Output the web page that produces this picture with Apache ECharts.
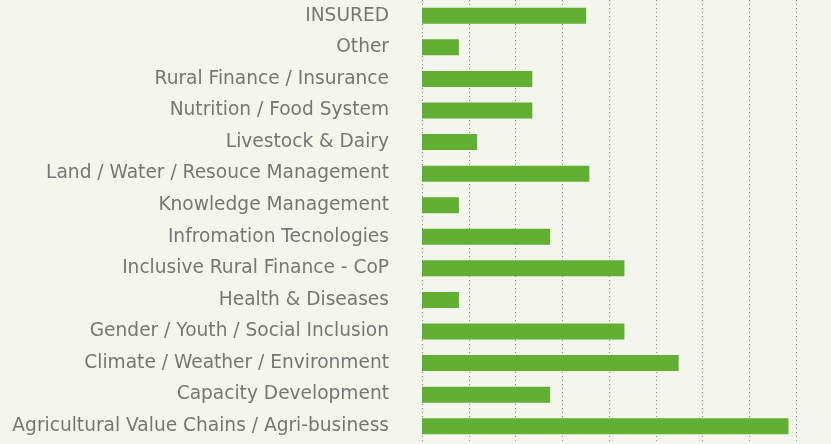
<!DOCTYPE html>
<html>
<head>
<meta charset="utf-8">
<style>
html, body { margin: 0; padding: 0; background: #f4f6ee; }
#chart { width: 831px; height: 444px; }
</style>
<script src="https://cdn.jsdelivr.net/npm/echarts@6/dist/echarts.min.js"></script>
</head>
<body>
<div id="chart"></div>
<script>
// categories, bottom to top
var categories = [
	'Agricultural Value Chains / Agri-business',
	'Capacity Development',
	'Climate / Weather / Environment',
	'Gender / Youth / Social Inclusion',
	'Health & Diseases',
	'Inclusive Rural Finance - CoP',
	'Infromation Tecnologies',
	'Knowledge Management',
	'Land / Water / Resouce Management',
	'Livestock & Dairy',
	'Nutrition / Food System',
	'Rural Finance / Insurance',
	'Other',
	'INSURED'
];
// share (%)
var values = [7.84, 2.74, 5.49, 4.33, 0.79, 4.33, 2.74, 0.79, 3.58, 1.18, 2.36, 2.36, 0.79, 3.51];

var chart = echarts.init(document.getElementById('chart'));
var textColor = '#767676';
var option = {
	backgroundColor: '#f4f6ee',
	grid: {
		left: 422,
		right: 35,
		top: -2,
		bottom: 2
	},
	xAxis: {
		type: 'value',
		min: 0,
		max: 8,
		interval: 1,
		axisLabel: { show: false },
		axisLine: { show: false },
		axisTick: { show: false },
		splitLine: {
			show: true,
			lineStyle: {
				color: '#8a8a8a',
				type: [1, 3],
				width: 1
			}
		}
	},
	yAxis: {
		type: 'category',
		data: categories,
		axisLine: { show: false },
		axisTick: { show: false },
		axisLabel: {
			margin: 33,
			color: textColor,
			fontSize: 18.6,
			fontFamily: 'DejaVu Sans',
			padding: [3, 0, 0, 0]
		}
	},
	series: [{
		type: 'bar',
		data: values,
		barWidth: 16,
		itemStyle: { color: '#62b033' },
		silent: true
	}]
};
chart.setOption(option);
</script>
</body>
</html>
